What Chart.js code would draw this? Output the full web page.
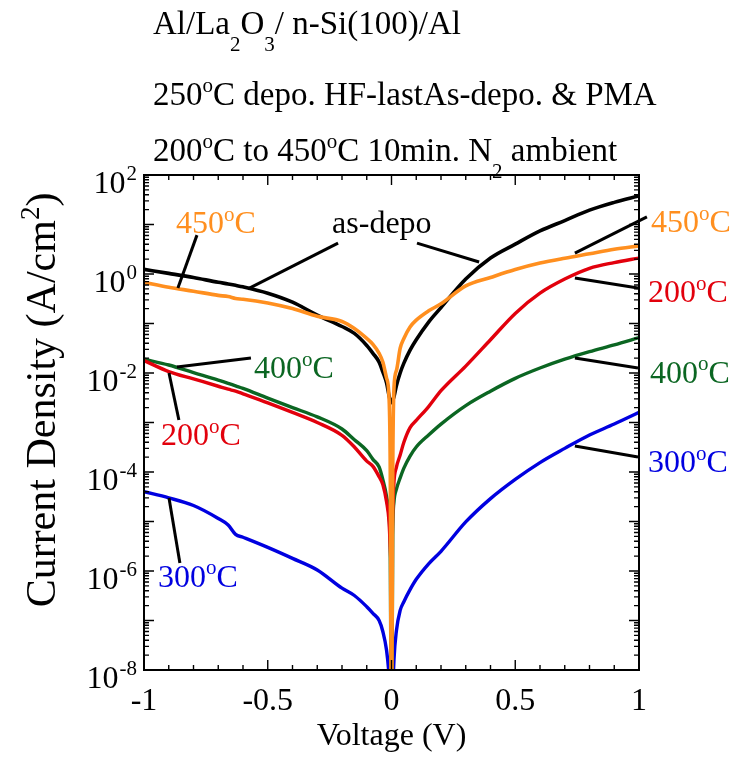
<!DOCTYPE html>
<html>
<head>
<meta charset="utf-8">
<script src="https://cdn.jsdelivr.net/npm/chart.js@4.4.1/dist/chart.umd.min.js"></script>
<style>
  html, body { margin: 0; padding: 0; background: #ffffff; }
  canvas { display: block; }
</style>
</head>
<body>
<canvas id="iv" width="737" height="758"></canvas>
<script>
// Gate voltage sweep (V)
const voltage = [-1, -0.9, -0.8, -0.7, -0.66, -0.63, -0.6, -0.5, -0.4, -0.3, -0.2, -0.15, -0.1, -0.075, -0.05, -0.035, -0.02, -0.01, -0.005,
                 0, 0.005, 0.01, 0.02, 0.035, 0.05, 0.075, 0.1, 0.15, 0.2, 0.3, 0.4, 0.5, 0.6, 0.7, 0.8, 0.9, 1];

// Current density (A/cm^2) for each treatment
const asDepo = [1.24, 1.03, 0.85, 0.68, 0.63, 0.59, 0.55, 0.41, 0.27, 0.148, 0.087, 0.063, 0.036, 0.025, 0.0166, 0.0105, 6.3e-3, 3.5e-3, 2.8e-3,
                2.5e-3, 2.8e-3, 3.3e-3, 5.6e-3, 0.01, 0.0158, 0.029, 0.047, 0.107, 0.21, 0.79, 2.1, 4.0, 7.4, 12.0, 19.5, 28, 38];
const pma450 = [0.68, 0.54, 0.45, 0.37, 0.35, 0.32, 0.31, 0.26, 0.20, 0.14, 0.11, 0.079, 0.05, 0.038, 0.025, 0.0166, 7.9e-3, 3.2e-3, 1e-4,
                1e-10, 1e-4, 5e-3, 0.0112, 0.0316, 0.05, 0.085, 0.117, 0.18, 0.25, 0.575, 0.85, 1.23, 1.66, 2.09, 2.57, 3.16, 3.7];
const pma200 = [0.0178, 0.0107, 7.6e-3, 5.4e-3, 4.7e-3, 4.3e-3, 3.8e-3, 2.5e-3, 1.6e-3, 1.0e-3, 5.5e-4, 3.2e-4, 1.66e-4, 1.3e-4, 8e-5, 5.6e-5, 2.5e-5, 1e-5, 3e-6,
                1e-6, 1.6e-5, 6.3e-5, 1.26e-4, 2.2e-4, 4e-4, 7.9e-4, 1.1e-3, 2.1e-3, 4.4e-3, 0.0138, 0.047, 0.16, 0.41, 0.79, 1.3, 1.7, 2.1];
const pma400 = [0.019, 0.0145, 0.0102, 7.2e-3, 6.2e-3, 5.5e-3, 4.9e-3, 3.1e-3, 2.0e-3, 1.3e-3, 7.4e-4, 4.5e-4, 2.7e-4, 1.8e-4, 1.26e-4, 7e-5, 3.2e-5, 1.26e-5, 2e-6,
                1e-10, 5e-6, 2.5e-5, 4.5e-5, 7.6e-5, 1.2e-4, 2.1e-4, 3.2e-4, 5.6e-4, 9.3e-4, 2.2e-3, 4.3e-3, 7.8e-3, 0.0126, 0.019, 0.027, 0.037, 0.052];
const pma300 = [4.0e-5, 3.0e-5, 2.1e-5, 1.15e-5, 8.5e-6, 5.5e-6, 4.8e-6, 3.0e-6, 1.8e-6, 1.05e-6, 4.5e-7, 3.2e-7, 1.9e-7, 1.4e-7, 1.0e-7, 6e-8, 2.5e-8, 8e-9, 3e-9,
                1e-10, 3e-9, 1.6e-8, 6.3e-8, 1.6e-7, 2.4e-7, 4.2e-7, 6.8e-7, 1.4e-6, 2.5e-6, 9.8e-6, 2.9e-5, 7.1e-5, 1.55e-4, 3.0e-4, 5.6e-4, 9.3e-4, 1.6e-3];

// Axis tick labels
const xTickLabels = [-1, -0.5, 0, 0.5, 1];
const yDecadeLabels = [2, 0, -2, -4, -6, -8];

const ORANGE = '#ff8f1f';
const RED = '#e2000c';
const GREEN = '#0b6622';
const BLUE = '#0000e0';
const FONT = '"Liberation Serif", "Times New Roman", serif';

// Callout labels and their leader lines, placed in data units (V, A/cm^2)
const callouts = [
  { text: '450', color: ORANGE, at: [-0.871, 6.7], lines: [[[-0.786, 6.1], [-0.863, 0.52]]] },
  { text: 'as-depo', plain: true, color: '#000', at: [-0.240, 6.7],
    lines: [[[-0.216, 4.2], [-0.580, 0.50]], [[0.103, 4.2], [0.354, 1.75]]] },
  { text: '450', color: ORANGE, at: [1.048, 7.0], lines: [[[1.032, 14.2], [0.741, 2.65]]] },
  { text: '200', color: RED, at: [1.036, 0.27], lines: [[[0.996, 0.52], [0.741, 0.83]]] },
  { text: '400', color: GREEN, at: [1.044, 6.3e-3], lines: [[[0.996, 0.0126], [0.741, 0.020]]] },
  { text: '300', color: BLUE, at: [1.036, 1.0e-4], lines: [[[0.996, 2.0e-4], [0.741, 3.35e-4]]] },
  { text: '400', color: GREEN, at: [-0.556, 7.9e-3], lines: [[[-0.568, 0.020], [-0.867, 0.0132]]] },
  { text: '200', color: RED, at: [-0.931, 3.5e-4], lines: [[[-0.859, 1.12e-3], [-0.899, 0.01]]] },
  { text: '300', color: BLUE, at: [-0.943, 4.8e-7], lines: [[[-0.855, 1.45e-6], [-0.899, 3.0e-5]]] }
];

function series(values) {
  return voltage.map((v, i) => ({ x: v, y: values[i] }));
}

// Draws a run of text pieces; kind 1 = superscript, -1 = subscript
function richText(ctx, parts, x, y, size, align) {
  const small = Math.round(size * 0.65);
  const fontFor = k => (k ? small : size) + 'px ' + FONT;
  let total = 0;
  parts.forEach(([t, k]) => { ctx.font = fontFor(k); total += ctx.measureText(t).width; });
  let cx = align === 'center' ? x - total / 2 : align === 'right' ? x - total : x;
  ctx.textAlign = 'left';
  ctx.textBaseline = 'alphabetic';
  parts.forEach(([t, k]) => {
    ctx.font = fontFor(k);
    const dy = k === 1 ? -size * 0.39 : k === -1 ? size * 0.5 : 0;
    ctx.fillText(t, cx, y + dy);
    cx += ctx.measureText(t).width;
  });
}

const framePlugin = {
  id: 'frame',
  afterDatasetsDraw(chart) {
    const { ctx, chartArea: a, scales: { x, y } } = chart;
    ctx.save();

    // inward ticks on all four sides
    ctx.strokeStyle = '#000';
    ctx.lineWidth = 1.4;
    ctx.beginPath();
    for (let i = -10; i <= 10; i++) {
      const px = x.getPixelForValue(i / 10);
      const len = i % 5 === 0 ? 10 : 5;
      ctx.moveTo(px, a.bottom); ctx.lineTo(px, a.bottom - len);
      ctx.moveTo(px, a.top); ctx.lineTo(px, a.top + len);
    }
    for (let e = -8; e <= 2; e++) {
      for (let m = 1; m <= 9; m++) {
        if (e === 2 && m > 1) break;
        const py = y.getPixelForValue(m * Math.pow(10, e));
        const len = m === 1 ? 10 : 5;
        ctx.moveTo(a.left, py); ctx.lineTo(a.left + len, py);
        ctx.moveTo(a.right, py); ctx.lineTo(a.right - len, py);
      }
    }
    ctx.stroke();

    // plot frame
    ctx.lineWidth = 2;
    ctx.strokeRect(a.left, a.top, a.right - a.left, a.bottom - a.top);

    ctx.fillStyle = '#000';
    // x tick labels
    ctx.font = '32px ' + FONT;
    ctx.textAlign = 'center';
    ctx.textBaseline = 'alphabetic';
    xTickLabels.forEach(v => ctx.fillText(String(v), x.getPixelForValue(v), a.bottom + 40));

    // y tick labels: 10 with exponent
    yDecadeLabels.forEach(e => {
      const py = y.getPixelForValue(Math.pow(10, e));
      ctx.font = '21px ' + FONT;
      const exp = String(e);
      const ew = ctx.measureText(exp).width;
      const right = a.left - 7;
      ctx.textAlign = 'left';
      ctx.fillText(exp, right - ew, py + 5);
      ctx.font = '32px ' + FONT;
      const tw = ctx.measureText('10').width;
      ctx.fillText('10', right - ew - tw - 1, py + 18);
    });

    // axis titles
    ctx.font = '32px ' + FONT;
    ctx.textAlign = 'center';
    ctx.fillText('Voltage (V)', (a.left + a.right) / 2, 745);

    ctx.save();
    ctx.translate(55, 400);
    ctx.rotate(-Math.PI / 2);
    richText(ctx, [['Current Density (A/cm', 0], ['2', 1], [')', 0]], 0, 0, 42, 'center');
    ctx.restore();

    // header lines
    richText(ctx, [['Al/La', 0], ['2', -1], ['O', 0], ['3', -1], ['/ n-Si(100)/Al', 0]], 153, 34, 33, 'left');
    richText(ctx, [['250', 0], ['o', 1], ['C depo. HF-lastAs-depo. & PMA', 0]], 153, 105, 33, 'left');
    richText(ctx, [['200', 0], ['o', 1], ['C to 450', 0], ['o', 1], ['C 10min. N', 0], ['2', -1], [' ambient', 0]], 153, 161, 33, 'left');

    // callouts
    callouts.forEach(c => {
      ctx.strokeStyle = '#000';
      ctx.lineWidth = 3;
      c.lines.forEach(([p, q]) => {
        ctx.beginPath();
        ctx.moveTo(x.getPixelForValue(p[0]), y.getPixelForValue(p[1]));
        ctx.lineTo(x.getPixelForValue(q[0]), y.getPixelForValue(q[1]));
        ctx.stroke();
      });
      ctx.fillStyle = c.color;
      const tx = x.getPixelForValue(c.at[0]);
      const ty = y.getPixelForValue(c.at[1]);
      const parts = c.plain ? [[c.text, 0]] : [[c.text, 0], ['o', 1], ['C', 0]];
      richText(ctx, parts, tx, ty, 32, 'left');
    });

    ctx.restore();
  }
};

new Chart(document.getElementById('iv'), {
  type: 'line',
  data: {
    datasets: [
      { label: '450°C', data: series(pma450), borderColor: ORANGE, borderWidth: 3.6 },
      { label: 'as-depo', data: series(asDepo), borderColor: '#000000', borderWidth: 3.6 },
      { label: '200°C', data: series(pma200), borderColor: RED, borderWidth: 3.4 },
      { label: '400°C', data: series(pma400), borderColor: GREEN, borderWidth: 3.4 },
      { label: '300°C', data: series(pma300), borderColor: BLUE, borderWidth: 3.4 }
    ]
  },
  options: {
    responsive: false,
    animation: false,
    devicePixelRatio: 1,
    layout: { padding: { left: 144, right: 98, top: 175, bottom: 88 } },
    plugins: { legend: { display: false }, tooltip: { enabled: false } },
    elements: {
      point: { radius: 0 },
      line: { cubicInterpolationMode: 'monotone', fill: false }
    },
    scales: {
      x: { type: 'linear', min: -1, max: 1, display: false },
      y: { type: 'logarithmic', min: 1e-8, max: 100, display: false }
    }
  },
  plugins: [framePlugin]
});
</script>
</body>
</html>
